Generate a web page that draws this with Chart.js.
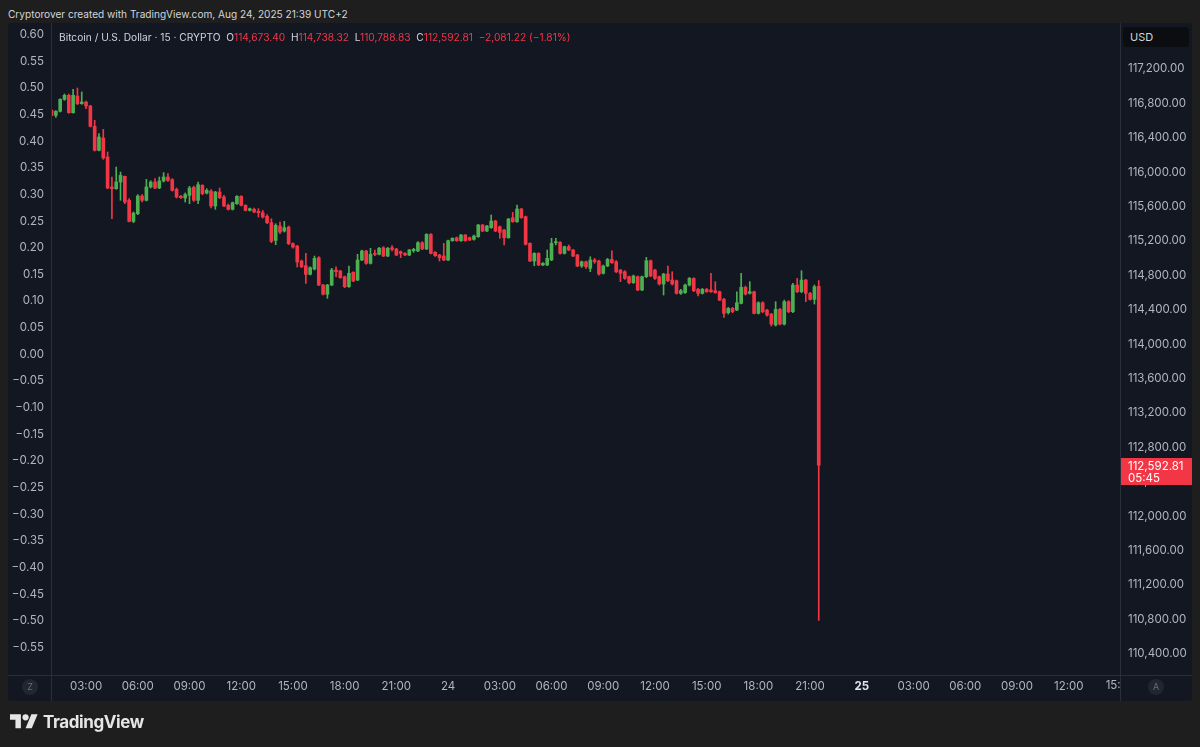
<!DOCTYPE html>
<html><head><meta charset="utf-8">
<script src="https://cdn.jsdelivr.net/npm/chart.js@4"></script>
<style>
html,body{margin:0;padding:0;background:#1e1e1e;width:1200px;height:747px;overflow:hidden;font-family:Inter,"Noto Sans",sans-serif;}
#hdr{position:absolute;left:8px;top:8px;font-size:10.1px;color:#d1d4dc;line-height:13px;white-space:pre}
#panel{position:absolute;left:8px;top:23px;width:1184px;height:678px;background:#131722;border-radius:3px;overflow:hidden}
#panel canvas{position:absolute;left:0;top:0}
#legend{position:absolute;left:51px;top:8px;font-size:10.2px;line-height:13px;color:#d1d4dc;white-space:pre}
#legend .v{color:#f23645}
#usd{position:absolute;left:1115px;top:4px;width:66px;height:20px;background:#0c0d10;border-radius:4px;color:#d1d4dc;font-size:11px;line-height:20px;box-sizing:border-box;padding-left:7px}
.btn{position:absolute;width:16px;height:16px;border-radius:8px;background:#22262f;color:#6a6d78;font-size:9px;line-height:16px;text-align:center;top:656px}
#foot{position:absolute;left:10px;top:708px;height:28px;display:flex;align-items:center;color:#e6e6e6;font-size:17px;font-weight:700;letter-spacing:-0.4px}
#foot svg{margin-right:5px}
</style></head>
<body>
<div id="hdr">Cryptorover created with TradingView.com, Aug 24, 2025 21:39 UTC+2</div>
<div id="panel">
  <canvas id="c" width="1184" height="678"></canvas>
  <div id="legend">Bitcoin / U.S. Dollar · 15 · CRYPTO  O<span class="v">114,673.40</span>  H<span class="v">114,738.32</span>  L<span class="v">110,788.83</span>  C<span class="v">112,592.81</span>  <span class="v">−2,081.22 (−1.81%)</span></div>
  <div id="usd">USD</div>
  <div class="btn" style="left:14px">Z</div>
  <div class="btn" style="left:1140px">A</div>
</div>
<div id="foot"><svg width="28" height="22" viewBox="0 0 36 28"><path fill="#e6e6e6" d="M14 22H7V11H0V4h14v18zM28 22h-8l7.5-18h8L28 22z"/><circle fill="#e6e6e6" cx="20" cy="8" r="4"/></svg>TradingView</div>
<script>
// 15-minute slots counted from Aug 23 00:00; first visible candle sits in slot 4 (01:00)
const firstSlot = 4;
const opens = [
116720,116661,116708,116847,116894,116692,116886,116797,116816,116770,
116533,116254,116398,116177,115828,115808,115886,115952,115673,115428,
115518,115723,115673,115828,115886,115816,115898,115944,115913,115801,
115719,115700,115731,115824,115673,115847,115758,115781,115607,115770,
115711,115615,115568,115634,115719,115615,115556,115568,115545,115529,
115487,115413,115207,115374,115316,115362,115169,115141,114967,114913,
114812,114874,115006,114688,114580,114688,114863,114851,114785,114669,
114836,114746,114979,115084,114940,115056,115045,115122,115025,115122,
115107,115076,115056,115037,115087,115084,115180,115107,115277,115068,
115037,115025,114979,115204,115238,115204,115269,115238,115219,115250,
115386,115316,115355,115432,115366,115328,115238,115471,115424,115572,
115483,115173,114967,115056,114921,114921,114979,115180,115184,115056,
115134,115095,115037,114909,114959,114882,114979,114967,114824,114909,
114986,114959,114862,114843,114785,114715,114785,114630,114785,114971,
114862,114785,114700,114816,114746,114738,114591,114599,114688,114765,
114638,114591,114638,114630,114622,114610,114521,114366,114416,114397,
114475,114661,114591,114610,114358,114482,114397,114351,114223,114405,
114234,114494,114378,114688,114610,114746,114591,114521,114673.40];
const highs = [
116727,116716,116855,116909,116909,116964,116979,116933,116828,116778,
116603,116448,116498,116235,115944,116060,116002,115956,115692,115537,
115739,115739,115917,115901,115925,115944,115995,115983,115925,115816,
115731,115758,115836,115839,115886,115855,115808,115797,115777,115816,
115731,115630,115653,115727,115727,115622,115584,115584,115576,115556,
115506,115459,115401,115421,115428,115374,115180,115149,114979,115056,
114901,115025,115018,114696,114696,114882,114901,114859,114793,114909,
114843,115045,115095,115091,115115,115095,115126,115134,115126,115146,
115115,115084,115064,115103,115115,115192,115192,115285,115285,115076,
115045,115173,115211,115238,115246,115277,115277,115246,115269,115393,
115393,115382,115502,115440,115374,115335,115463,115533,115618,115580,
115490,115180,115064,115064,114948,115095,115231,115231,115192,115141,
115153,115103,115045,114967,114967,115017,114998,114979,114920,114998,
115087,114971,114870,114855,114793,114804,114793,114793,115010,114979,
114870,114793,114824,114909,114843,114746,114638,114700,114777,114773,
114649,114649,114649,114824,114727,114618,114533,114428,114428,114610,
114824,114676,114727,114618,114494,114494,114405,114358,114494,114416,
114513,114506,114707,114765,114855,114754,114603,114688,114738.32];
const lows = [
116654,116638,116700,116836,116685,116685,116785,116789,116739,116526,
116246,116246,116150,115808,115459,115801,115673,115634,115421,115413,
115506,115653,115665,115816,115808,115808,115886,115894,115781,115700,
115696,115653,115634,115661,115634,115739,115746,115584,115568,115692,
115599,115560,115560,115626,115607,115549,115549,115529,115479,115467,
115401,115180,115157,115285,115304,115157,115118,114897,114890,114708,
114805,114863,114680,114572,114533,114680,114785,114766,114657,114661,
114727,114739,114971,114929,114932,115029,115037,115018,115018,115084,
115029,115006,115029,115029,115068,115076,115099,115099,115049,115022,
114967,114971,114971,115196,115196,115196,115196,115204,115211,115242,
115308,115308,115347,115308,115231,115153,115231,115417,115417,115463,
115153,114960,114913,114913,114913,114913,114971,115153,115048,115048,
115087,115017,114901,114893,114882,114843,114940,114804,114816,114901,
114940,114831,114727,114754,114700,114707,114622,114622,114773,114785,
114754,114688,114572,114727,114688,114583,114579,114591,114676,114610,
114560,114583,114603,114603,114591,114506,114312,114351,114366,114389,
114467,114572,114583,114351,114351,114366,114327,114211,114211,114223,
114223,114366,114366,114599,114599,114494,114513,114467,110788.83];
const closes = [
116661,116708,116847,116894,116692,116894,116797,116816,116770,116533,
116254,116409,116165,115816,115808,115886,115963,115653,115428,115525,
115723,115673,115828,115886,115816,115898,115944,115905,115789,115711,
115704,115739,115816,115673,115855,115750,115789,115607,115770,115704,
115607,115568,115646,115719,115615,115556,115576,115537,115529,115479,
115413,115196,115382,115304,115355,115169,115130,114955,114901,114812,
114890,114998,114688,114580,114688,114863,114843,114774,114669,114824,
114735,114979,115084,114940,115045,115045,115115,115025,115115,115103,
115037,115056,115037,115095,115103,115180,115107,115277,115056,115029,
115006,114979,115204,115231,115204,115269,115204,115211,115258,115386,
115316,115374,115432,115316,115300,115238,115456,115424,115572,115471,
115161,114967,115056,114921,114940,114998,115173,115192,115056,115134,
115095,115025,114909,114959,114901,114979,114959,114816,114909,114986,
114948,114843,114824,114765,114715,114793,114630,114785,114971,114793,
114765,114700,114816,114738,114700,114591,114622,114688,114765,114622,
114591,114638,114610,114610,114599,114513,114358,114416,114378,114482,
114661,114583,114610,114358,114482,114378,114339,114234,114405,114234,
114494,114378,114688,114610,114746,114591,114521,114669,112592.81];

const timeTickSlots  = [12,24,36,48,60,72,84,96,108,120,132,144,156,168,180,192,204,216,228,240,252];
const timeTickLabels = ['03:00','06:00','09:00','12:00','15:00','18:00','21:00','24','03:00','06:00','09:00','12:00','15:00','18:00','21:00','25','03:00','06:00','09:00','12:00','15:00'];
const boldTickSlots = [192];
const priceStep = 400;
const leftStep = 0.05;
const countdown = '05:45';

const GREEN = '#4caf50', RED = '#f23645';
const TXT = '#b2b5be', LINE = '#2a2e39';
const FONT = 'Inter, "Noto Sans", sans-serif';

const X_MIN = 4.1, X_MAX = 251.9;
const Y_MAX = 117734.9, Y_MIN = 110153.4;
const L_MAX = 0.6216, L_MIN = -0.6016;

const slots = opens.map((_, i) => firstSlot + i);
const bodyData = slots.map((s, i) => ({x: s, y: [opens[i], closes[i]]}));
const wickData = slots.map((s, i) => ({x: s, y: [lows[i], highs[i]]}));
const colorOf = ctx => (closes[ctx.dataIndex] >= opens[ctx.dataIndex] ? GREEN : RED);
const fmtPrice = v => v.toLocaleString('en-US', {minimumFractionDigits: 2, maximumFractionDigits: 2});

const overlay = {
  id: 'overlay',
  afterDraw(chart) {
    const {ctx, chartArea: a, scales} = chart;
    const W = chart.width, H = chart.height;
    ctx.save();
    ctx.strokeStyle = LINE; ctx.lineWidth = 1;
    ctx.beginPath();
    ctx.moveTo(Math.round(a.left) - 0.5, 0); ctx.lineTo(Math.round(a.left) - 0.5, H);
    ctx.moveTo(Math.round(a.right) + 0.5, 0); ctx.lineTo(Math.round(a.right) + 0.5, H);
    ctx.moveTo(0, Math.round(a.bottom) + 0.5); ctx.lineTo(W, Math.round(a.bottom) + 0.5);
    ctx.stroke();
    ctx.save();
    ctx.beginPath(); ctx.rect(a.left, a.bottom + 1, a.right - a.left, H - a.bottom); ctx.clip();
    ctx.fillStyle = TXT; ctx.font = '11.5px ' + FONT; ctx.textAlign = 'center'; ctx.textBaseline = 'top';
    timeTickSlots.forEach((s, i) => { if (s > X_MAX) ctx.fillText(timeTickLabels[i], scales.x.getPixelForValue(s), a.bottom + 5); });
    ctx.restore();
    const last = closes.length - 1;
    const yc = scales.y.getPixelForValue(closes[last]);
    ctx.fillStyle = closes[last] >= opens[last] ? GREEN : RED;
    ctx.fillRect(a.right + 1, Math.round(yc) - 7, W - a.right, 27);
    ctx.fillStyle = '#ffffff'; ctx.font = '11.5px ' + FONT; ctx.textAlign = 'left'; ctx.textBaseline = 'middle';
    ctx.fillText(fmtPrice(closes[last]), a.right + 8, yc + 1);
    ctx.fillText(countdown, a.right + 8, yc + 13);
    ctx.restore();
  }
};

function stepTicks(min, max, step) {
  const t = [];
  for (let k = Math.ceil(min / step - 1e-9); k * step <= max + 1e-9; k++) t.push({value: +(k * step).toFixed(6)});
  return t;
}
const noPadV = s => { s.paddingTop = 0; s.paddingBottom = 0; };
const noPadH = s => { s.paddingLeft = 0; s.paddingRight = 0; };

new Chart(document.getElementById('c'), {
  type: 'bar',
  data: {datasets: [
    {data: bodyData, backgroundColor: colorOf, barThickness: 3, minBarLength: 1, grouped: false, borderWidth: 0, xAxisID: 'x', yAxisID: 'y'},
    {data: wickData, backgroundColor: colorOf, barThickness: 1, minBarLength: 1, grouped: false, borderWidth: 0, xAxisID: 'x', yAxisID: 'y'}
  ]},
  options: {
    responsive: false, animation: false,
    layout: {padding: 0},
    plugins: {legend: {display: false}, tooltip: {enabled: false}},
    scales: {
      x: {
        type: 'linear', min: X_MIN, max: X_MAX, offset: false,
        grid: {display: false, drawTicks: false}, border: {display: false},
        afterBuildTicks: s => { s.ticks = timeTickSlots.filter(v => v >= X_MIN && v <= X_MAX).map(v => ({value: v})); },
        afterFit: s => { s.height = 26; noPadH(s); },
        ticks: {
          autoSkip: false, maxRotation: 0, padding: 5,
          color: c => (c.tick && boldTickSlots.includes(c.tick.value) ? '#e0e3eb' : TXT),
          font: c => ({family: FONT, size: 11.5, weight: (c.tick && boldTickSlots.includes(c.tick.value)) ? 'bold' : 'normal'}),
          callback: v => { const i = timeTickSlots.indexOf(v); return i >= 0 ? timeTickLabels[i] : ''; }
        }
      },
      y: {
        type: 'linear', position: 'right', min: Y_MIN, max: Y_MAX,
        grid: {display: false, drawTicks: false}, border: {display: false},
        afterBuildTicks: s => { s.ticks = stepTicks(Y_MIN, Y_MAX, priceStep); },
        afterFit: s => { s.width = 72; noPadV(s); },
        ticks: {
          autoSkip: false, padding: 8,
          color: TXT, font: {family: FONT, size: 11.5},
          callback: v => (v > 117400 ? '' : fmtPrice(v))
        }
      },
      yL: {
        type: 'linear', position: 'left', min: L_MIN, max: L_MAX, display: true,
        grid: {display: false, drawTicks: false}, border: {display: false},
        afterBuildTicks: s => { s.ticks = stepTicks(L_MIN, L_MAX, leftStep); },
        afterFit: s => { s.width = 44; noPadV(s); },
        ticks: {
          autoSkip: false, padding: 8,
          color: TXT, font: {family: FONT, size: 11.5},
          callback: v => (v < -0.575 || v > 0.61) ? '' : (Math.round(v * 100) / 100).toFixed(2).replace('-', '\u2212')
        }
      }
    }
  },
  plugins: [overlay]
});
</script>
</body></html>
